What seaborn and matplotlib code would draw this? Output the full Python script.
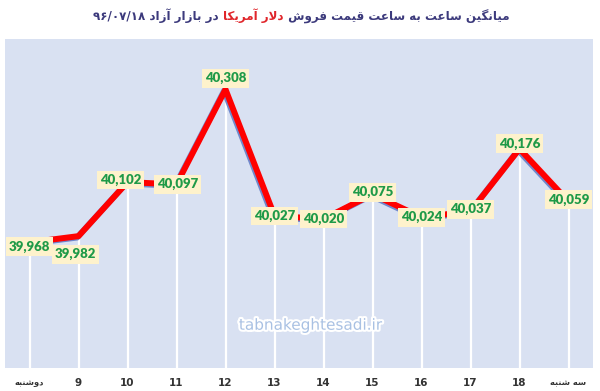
import matplotlib
matplotlib.use("Agg")
import matplotlib.pyplot as plt
import matplotlib.patheffects as pe
from matplotlib.offsetbox import TextArea, HPacker, AnnotationBbox
import seaborn as sns
import pandas as pd

# data
hours = ["دوشنبه", "9", "10", "11", "12", "13", "14", "15", "16", "17", "18", "سه شنبه"]
prices = [39968, 39982, 40102, 40097, 40308, 40027, 40020, 40075, 40024, 40037, 40176, 40059]
# label nudges in pixels (x, y)
label_shift = [(0, -4), (-3, -18), (-7, 2), (1, 0), (0, 11), (0, 0), (0, 0), (0, 2), (0, 0), (0, 2), (0, 5), (0, 2)]

title_start = "میانگین ساعت به ساعت قیمت فروش"
title_red = "دلار آمریکا"
title_end = "در بازار آزاد"
title_date = "۹۶/۰۷/۱۸"

# tiny arabic shaper: isolated, final, initial, medial
FORMS = {
    "ا": ("\uFE8D", "\uFE8E", None, None),
    "آ": ("\uFE81", "\uFE82", None, None),
    "د": ("\uFEA9", "\uFEAA", None, None),
    "ر": ("\uFEAD", "\uFEAE", None, None),
    "ز": ("\uFEAF", "\uFEB0", None, None),
    "و": ("\uFEED", "\uFEEE", None, None),
    "ب": ("\uFE8F", "\uFE90", "\uFE91", "\uFE92"),
    "ت": ("\uFE95", "\uFE96", "\uFE97", "\uFE98"),
    "س": ("\uFEB1", "\uFEB2", "\uFEB3", "\uFEB4"),
    "ش": ("\uFEB5", "\uFEB6", "\uFEB7", "\uFEB8"),
    "ع": ("\uFEC9", "\uFECA", "\uFECB", "\uFECC"),
    "ف": ("\uFED1", "\uFED2", "\uFED3", "\uFED4"),
    "ق": ("\uFED5", "\uFED6", "\uFED7", "\uFED8"),
    "ل": ("\uFEDD", "\uFEDE", "\uFEDF", "\uFEE0"),
    "م": ("\uFEE1", "\uFEE2", "\uFEE3", "\uFEE4"),
    "ن": ("\uFEE5", "\uFEE6", "\uFEE7", "\uFEE8"),
    "ه": ("\uFEE9", "\uFEEA", "\uFEEB", "\uFEEC"),
    "ی": ("\uFBFC", "\uFBFD", "\uFBFE", "\uFBFF"),
    "ک": ("\uFB8E", "\uFB8F", "\uFB90", "\uFB91"),
    "گ": ("\uFB92", "\uFB93", "\uFB94", "\uFB95"),
}


def joins_next(c):
    return c in FORMS and FORMS[c][2] is not None


def shape(text):
    out = []
    i = 0
    while i < len(text):
        c = text[i]
        if c not in FORMS:
            out.append(c)
            i += 1
            continue
        prev = text[i - 1] if i > 0 else ""
        nxt = text[i + 1] if i + 1 < len(text) else ""
        from_prev = joins_next(prev)
        if c == "ل" and nxt == "ا":
            out.append("\uFEFC" if from_prev else "\uFEFB")
            i += 2
            continue
        to_next = joins_next(c) and nxt in FORMS
        f = FORMS[c]
        if from_prev and to_next:
            out.append(f[3])
        elif from_prev:
            out.append(f[1])
        elif to_next:
            out.append(f[2])
        else:
            out.append(f[0])
        i += 1
    return "".join(out)


def is_persian(text):
    return any(c in FORMS for c in text)


def rtl(text):
    # only flip text that actually has persian letters
    if not is_persian(text):
        return text
    return shape(text)[::-1]


df = pd.DataFrame({"pos": range(len(prices)), "price": prices})

sns.set_style("white", {"axes.facecolor": "#d9e1f2"})
plt.rcParams["font.family"] = ["DejaVu Sans"]

fig = plt.figure(figsize=(6, 3.91), dpi=100)
ax = fig.add_axes([5 / 600, 23 / 391, 588 / 600, 329 / 391])

ax.vlines(df["pos"], 39000, df["price"], color="white", lw=1.6, zorder=1)
sns.lineplot(data=df, x="pos", y="price", ax=ax, color="#ff0000", lw=4.3, zorder=3,
             path_effects=[pe.SimpleLineShadow(offset=(-1, -1), shadow_color="#7088cc", alpha=1),
                           pe.Normal()])

for x, y, (dx, dy) in zip(df["pos"], df["price"], label_shift):
    ax.annotate(f"{y:,}", (x, y), xytext=(dx, dy), textcoords="offset pixels",
                ha="center", va="center", fontsize=9.5, fontweight="heavy",
                family="Lato", color="#1f9a48", zorder=5,
                bbox=dict(boxstyle="square,pad=0.25", fc="#fef2cc", ec="none"))

ax.set_xlim(-0.5, len(prices) - 0.5)
ax.set_ylim(39689, 40420)
ax.set_yticks([])
ax.set_xticks(list(range(len(hours))))
ax.set_xticklabels([rtl(h) for h in hours], fontsize=7.5, fontweight="bold", color="#333333")
for lab, h in zip(ax.get_xticklabels(), hours):
    if is_persian(h):
        lab.set_fontsize(6)
ax.tick_params(axis="x", length=0, pad=7)
ax.set_xlabel("")
ax.set_ylabel("")
sns.despine(ax=ax, left=True, bottom=True)

ax.text(0.52, 0.13, "tabnakeghtesadi.ir", transform=ax.transAxes, ha="center", va="center",
        fontsize=11, color="#a9c1e3", zorder=2,
        path_effects=[pe.withStroke(linewidth=3, foreground="white")])

# title, three colour pieces laid out left to right
tprops = dict(fontsize=8.6, fontweight="bold", family="DejaVu Sans")
left = TextArea(title_date + " " + rtl(title_end) + " ", textprops=dict(color="#3c3a7c", **tprops))
mid = TextArea(rtl(title_red), textprops=dict(color="#e0262b", **tprops))
right = TextArea(" " + rtl(title_start), textprops=dict(color="#3c3a7c", **tprops))
row = HPacker(children=[left, mid, right], pad=0, sep=0, align="baseline")
fig.add_artist(AnnotationBbox(row, (0.502, 1 - 16 / 391), xycoords="figure fraction",
                              frameon=False, box_alignment=(0.5, 0.5)))

fig.savefig("out.png", dpi=100, facecolor="white")
